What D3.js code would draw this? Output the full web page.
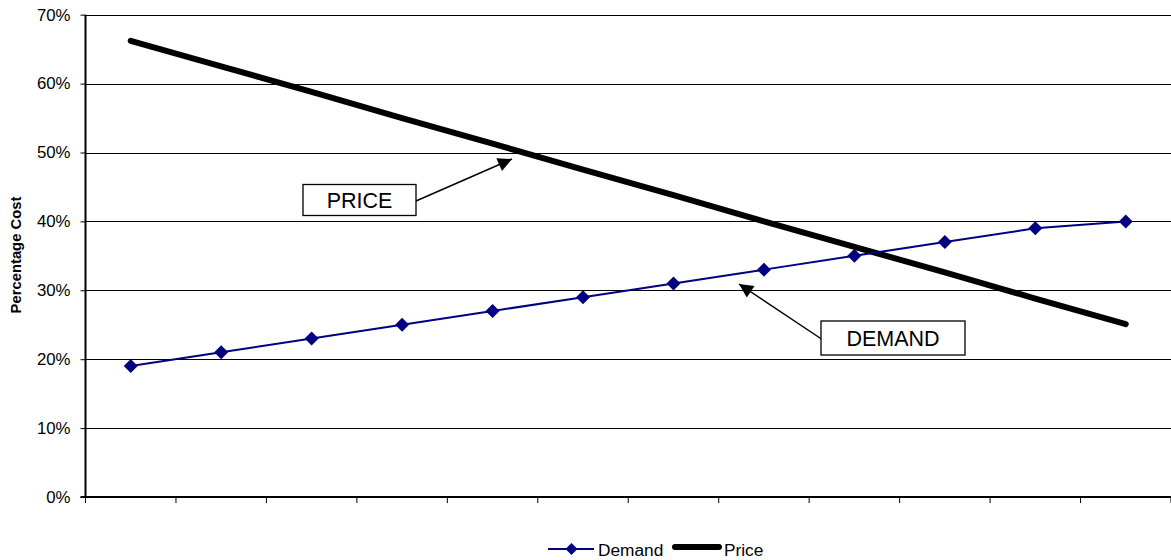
<!DOCTYPE html>
<html>
<head>
<meta charset="utf-8">
<script src="https://cdn.jsdelivr.net/npm/d3@7"></script>
<style>
  html, body { margin: 0; padding: 0; background: #fff; }
  svg { display: block; font-family: "Liberation Sans", Arial, sans-serif; }
</style>
</head>
<body>
<svg id="chart" width="1171" height="560"></svg>
<script>
// Twelve periods along the horizontal axis (unlabelled)
const categories = ["1", "2", "3", "4", "5", "6", "7", "8", "9", "10", "11", "12"];
// Percentage cost per period
const demandValues = [0.19, 0.21, 0.23, 0.25, 0.27, 0.29, 0.31, 0.33, 0.35, 0.37, 0.39, 0.40];
const priceValues = [0.662, 0.625, 0.588, 0.550, 0.513, 0.475, 0.438, 0.400, 0.363, 0.326, 0.288, 0.251];
const yTicks = [0, 0.1, 0.2, 0.3, 0.4, 0.5, 0.6, 0.7];
const seriesNames = ["Demand", "Price"];
const calloutLabels = ["PRICE", "DEMAND"];

const svg = d3.select("#chart");
const plotLeft = 85.5, plotRight = 1171, plotTop = 14.7, plotBottom = 497;

const x = d3.scaleBand().domain(categories).range([plotLeft, plotRight]);
const y = d3.scaleLinear().domain([0, 0.7]).range([plotBottom, plotTop]);
const cx = c => x(c) + x.bandwidth() / 2;

// horizontal gridlines
svg.append("g").selectAll("line").data(yTicks.filter(t => t > 0)).join("line")
  .attr("x1", plotLeft).attr("x2", plotRight)
  .attr("y1", d => Math.round(y(d)) + 0.5).attr("y2", d => Math.round(y(d)) + 0.5)
  .attr("stroke", "#000").attr("stroke-width", 1);

// y axis
const yAxis = d3.axisLeft(y).tickValues(yTicks).tickFormat(d3.format(".0%")).tickSize(5).tickPadding(10);
const gy = svg.append("g").attr("transform", `translate(${plotLeft},0)`).call(yAxis);
gy.select(".domain").attr("stroke", "#000").attr("stroke-width", 2).attr("d", `M0,${plotTop}V${plotBottom}`);
gy.selectAll(".tick line").attr("stroke", "#000");
gy.selectAll(".tick text").attr("font-size", 16.8).attr("fill", "#000")
  .attr("font-family", "Liberation Sans, Arial, sans-serif");

// x axis: tick marks on category boundaries
const gx = svg.append("g").attr("transform", `translate(0,${plotBottom})`);
gx.append("line").attr("x1", plotLeft - 5).attr("x2", plotRight).attr("y1", 0).attr("y2", 0)
  .attr("stroke", "#000").attr("stroke-width", 2);
const boundaries = categories.map(c => x(c)).concat([plotRight]);
gx.selectAll("line.tk").data(boundaries).join("line").attr("class", "tk")
  .attr("x1", d => d).attr("x2", d => d).attr("y1", 0).attr("y2", 6)
  .attr("stroke", "#000").attr("stroke-width", 1);

// Price line
const line = d3.line().x((d, i) => cx(categories[i])).y(d => y(d));
svg.append("path").datum(priceValues).attr("d", line)
  .attr("fill", "none").attr("stroke", "#000").attr("stroke-width", 6)
  .attr("stroke-linecap", "round").attr("stroke-linejoin", "round");

// Demand line with diamond markers
const navy = "#000080";
svg.append("path").datum(demandValues).attr("d", line)
  .attr("fill", "none").attr("stroke", navy).attr("stroke-width", 2);
const diamond = (px, py, r) => `M${px},${py - r}L${px + r},${py}L${px},${py + r}L${px - r},${py}Z`;
svg.append("g").selectAll("path").data(demandValues).join("path")
  .attr("d", (d, i) => diamond(cx(categories[i]), y(d), 7))
  .attr("fill", navy);

// y axis title
svg.append("text").attr("transform", "translate(21,255) rotate(-90)")
  .attr("text-anchor", "middle").attr("font-size", 14.8).attr("font-weight", "bold")
  .text("Percentage Cost");

// callouts with arrows
const defs = svg.append("defs");
defs.append("marker").attr("id", "arrow").attr("viewBox", "0 0 10 10")
  .attr("refX", 10).attr("refY", 5).attr("markerWidth", 18).attr("markerHeight", 14)
  .attr("markerUnits", "userSpaceOnUse").attr("orient", "auto")
  .append("path").attr("d", "M0,0L10,5L0,10Z").attr("fill", "#000");

function callout(label, bx, by, bw, bh, sx, sy, tx, ty) {
  svg.append("line").attr("x1", sx).attr("y1", sy).attr("x2", tx).attr("y2", ty)
    .attr("stroke", "#000").attr("stroke-width", 1.5).attr("marker-end", "url(#arrow)");
  svg.append("rect").attr("x", bx).attr("y", by).attr("width", bw).attr("height", bh)
    .attr("fill", "#fff").attr("stroke", "#000").attr("stroke-width", 1.3);
  svg.append("text").attr("x", bx + bw / 2).attr("y", by + bh / 2 + 7.5)
    .attr("text-anchor", "middle").attr("font-size", 21.5).text(label);
}
callout(calloutLabels[0], 303, 184.5, 113, 31, 416, 201, 512, 159);
callout(calloutLabels[1], 821, 321, 144, 34, 823, 340, 739, 284);

// legend
const lg = svg.append("g");
lg.append("line").attr("x1", 548).attr("x2", 594).attr("y1", 549).attr("y2", 549)
  .attr("stroke", navy).attr("stroke-width", 2);
lg.append("path").attr("d", diamond(571.5, 549, 6)).attr("fill", navy);
lg.append("text").attr("x", 598).attr("y", 555.5).attr("font-size", 17.3).text(seriesNames[0]);
lg.append("line").attr("x1", 675).attr("x2", 719).attr("y1", 547).attr("y2", 547)
  .attr("stroke", "#000").attr("stroke-width", 6).attr("stroke-linecap", "round");
lg.append("text").attr("x", 724).attr("y", 555.5).attr("font-size", 17.3).text(seriesNames[1]);
</script>
</body>
</html>
